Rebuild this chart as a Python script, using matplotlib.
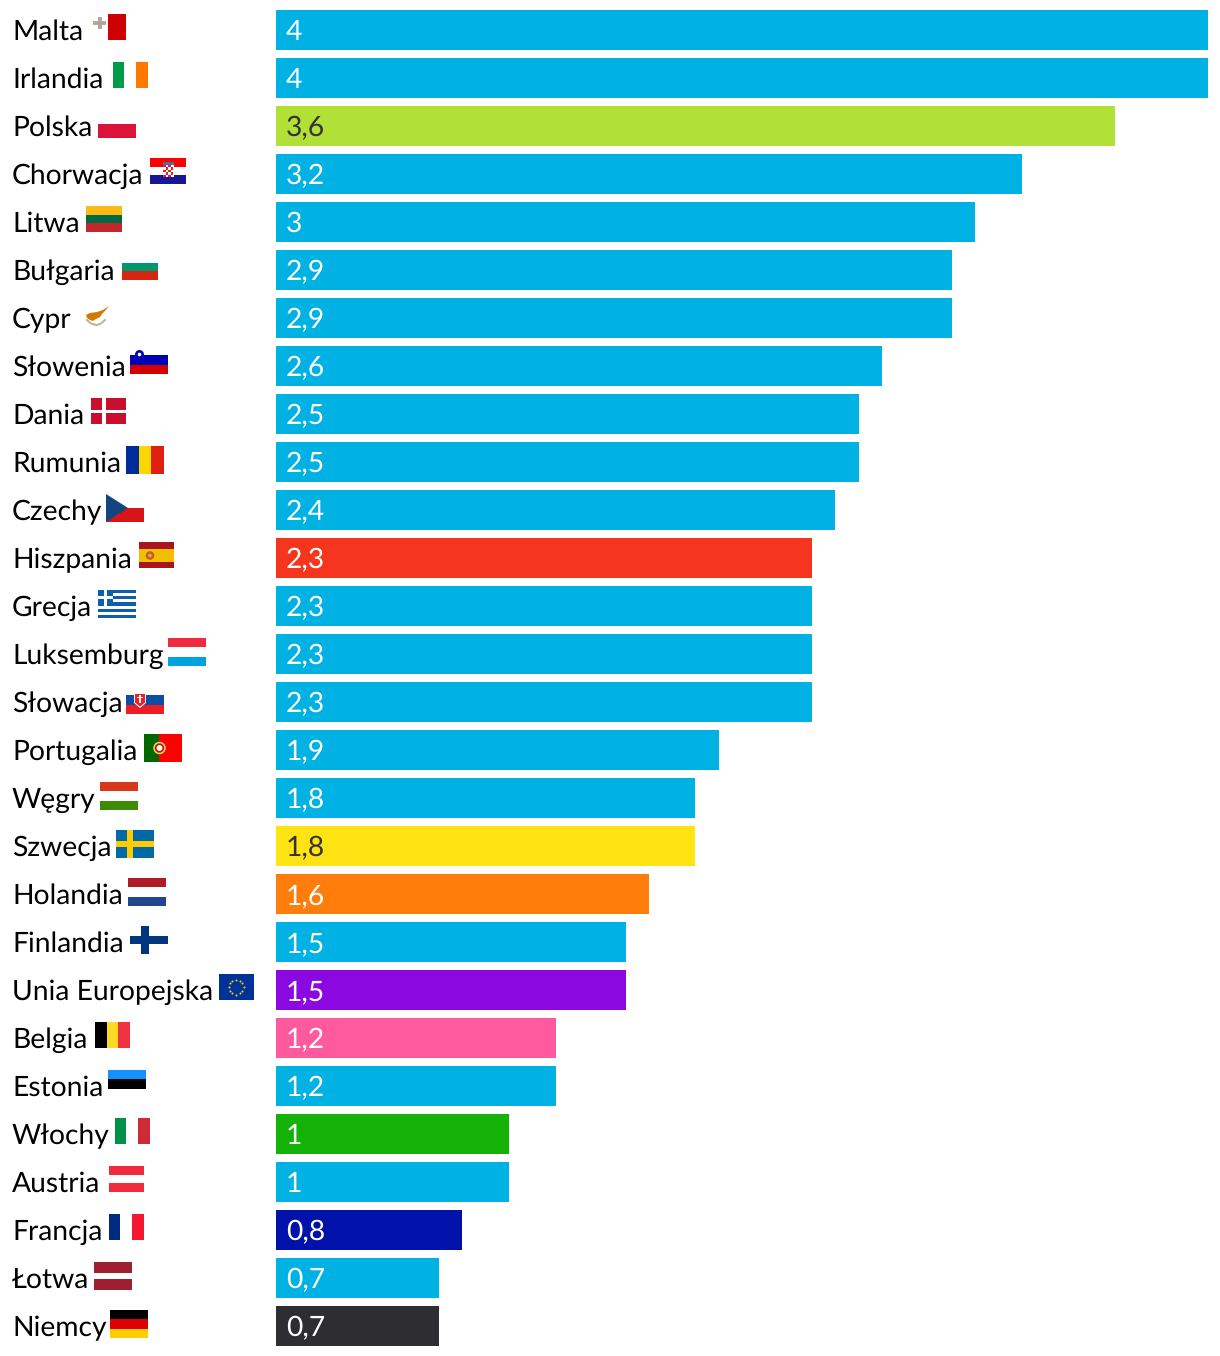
import numpy as np
import matplotlib
matplotlib.use("Agg")
import matplotlib.pyplot as plt
from matplotlib.patches import Rectangle, Polygon, Circle

# Dane
countries = ["Malta", "Irlandia", "Polska", "Chorwacja", "Litwa", "Bułgaria", "Cypr",
             "Słowenia", "Dania", "Rumunia", "Czechy", "Hiszpania", "Grecja", "Luksemburg",
             "Słowacja", "Portugalia", "Węgry", "Szwecja", "Holandia", "Finlandia",
             "Unia Europejska", "Belgia", "Estonia", "Włochy", "Austria", "Francja",
             "Łotwa", "Niemcy"]
values = [4, 4, 3.6, 3.2, 3, 2.9, 2.9, 2.6, 2.5, 2.5, 2.4, 2.3, 2.3, 2.3, 2.3,
          1.9, 1.8, 1.8, 1.6, 1.5, 1.5, 1.2, 1.2, 1, 1, 0.8, 0.7, 0.7]

BLUE = "#00b2e3"
special_colors = {"Polska": "#b1e037", "Hiszpania": "#f5351e", "Szwecja": "#ffe312",
                  "Holandia": "#ff7d0a", "Unia Europejska": "#8c08e0", "Belgia": "#ff5a9e",
                  "Włochy": "#14b106", "Francja": "#0012aa", "Niemcy": "#2d2d32"}
dark_text = ["Polska", "Szwecja"]

# Uklad w pikselach
W, H = 1220, 1356
BAR_X0, BAR_X1 = 276, 1208
PITCH, BAR_H, FIRST = 48, 40, 30

plt.rcParams["font.family"] = ["Lato", "DejaVu Sans"]
plt.rcParams["text.hinting"] = "no_hinting"
plt.rcParams["text.hinting_factor"] = 8
FS = 20.3

fig = plt.figure(figsize=(W / 100, H / 100), dpi=100)
ax = fig.add_axes([BAR_X0 / W, 0, (BAR_X1 - BAR_X0) / W, 1])
ypos = np.arange(len(countries))
colors = [special_colors.get(c, BLUE) for c in countries]
ax.barh(ypos, values, height=BAR_H / PITCH, color=colors)
ax.set_xlim(0, 4)
ax.set_ylim((H - FIRST) / PITCH, -FIRST / PITCH)
ax.axis("off")

for y, v, c in zip(ypos, values, countries):
    label = f"{v:g}".replace(".", ",")
    col = "#333333" if c in dark_text else "white"
    ax.annotate(label, (0, y), xytext=(10 * 0.72, -10 * 0.72), textcoords="offset points",
                va="baseline", ha="left", color=col, fontsize=FS)

# Warstwa z nazwami i flagami, wspolrzedne w pikselach
ov = fig.add_axes([0, 0, 1, 1])
ov.set_xlim(0, W)
ov.set_ylim(H, 0)
ov.axis("off")
ov.patch.set_alpha(0)


def rect(x0, y0, x1, y1, color):
    ov.add_patch(Rectangle((x0, y0), x1 - x0, y1 - y0, fc=color, ec="none"))


def hstripes(x0, y0, x1, y1, cols, stops=None):
    stops = stops or np.linspace(0, 1, len(cols) + 1)
    for i, c in enumerate(cols):
        rect(x0, y0 + (y1 - y0) * stops[i], x1, y0 + (y1 - y0) * stops[i + 1], c)


def vstripes(x0, y0, x1, y1, cols, stops=None):
    stops = stops or np.linspace(0, 1, len(cols) + 1)
    for i, c in enumerate(cols):
        rect(x0 + (x1 - x0) * stops[i], y0, x0 + (x1 - x0) * stops[i + 1], y1, c)


for y, c in zip(ypos, countries):
    ov.text(12, FIRST + PITCH * y + 10, c, va="baseline", ha="left", color="black", fontsize=FS)


def top(i):
    return FIRST - BAR_H / 2 + PITCH * i + 4


# Malta
t = top(0)
rect(108, t, 125.5, t + 26, "#cf0000")
rect(97.5, t + 3, 101.5, t + 15, "#c9a98c")
rect(93, t + 7, 106, t + 11, "#c9a98c")
rect(98.2, t + 4, 100.8, t + 14, "#a8a8a8")
rect(94, t + 7.7, 105, t + 10.3, "#a8a8a8")
# Irlandia
t = top(1)
vstripes(112.5, t, 147.5, t + 26, ["#009a49", "white", "#ff7900"])
# Polska
t = top(2)
rect(98, t + 14, 136, t + 28, "#dc143c")
# Chorwacja
t = top(3)
hstripes(150, t, 186, t + 26, ["#ff0000", "white", "#171796"])
rect(162.5, t + 6, 173.5, t + 19, "white")
for i in range(5):
    for j in range(4):
        if (i + j) % 2 == 0:
            rect(163 + j * 2.5, t + 7 + i * 2.4, 165.5 + j * 2.5, t + 9.4 + i * 2.4, "#e8202a")
rect(162.5, t + 4, 173.5, t + 6.5, "#4a6ea8")
# Litwa
t = top(4)
hstripes(86, t, 122, t + 26, ["#fdb913", "#006a44", "#c1272d"])
# Bulgaria
t = top(5)
hstripes(122, t, 158, t + 26, ["white", "#00966e", "#d62612"])
# Cypr
t = top(6)
ov.add_patch(Polygon([(86, 315), (90, 313), (97, 312), (103, 310), (109, 306), (104, 312),
                      (102, 314), (100, 317), (96, 319), (93, 321), (90, 320), (87, 318)],
                     fc="#d57800", ec="none"))
ov.plot([87, 91, 96], [320, 323.5, 325], color="#b5b59a", lw=1.4)
ov.plot([105, 101, 97], [320, 323.5, 325], color="#b5b59a", lw=1.4)
# Slowenia
t = top(7)
hstripes(130, t + 5, 168, t + 24, ["#0000b4", "#d50000"])
ov.add_patch(Circle((139.5, t + 4.5), 4.5, fc="#0000b4", ec="none"))
ov.add_patch(Circle((139.5, t + 4.5), 1.8, fc="white", ec="none"))
# Dania
t = top(8)
rect(90.5, t, 126, t + 26, "#c8102e")
rect(102, t, 105.5, t + 26, "white")
rect(90.5, t + 12, 126, t + 15, "white")
# Rumunia
t = top(9)
vstripes(126, t, 164, t + 28, ["#002b9b", "#fcd800", "#df2010"])
# Czechy
t = top(10)
rect(106, t + 14, 144, t + 28, "#d7141a")
ov.add_patch(Polygon([(106, t), (128, t + 14), (106, t + 28)], fc="#11457e", ec="none"))
# Hiszpania
t = top(11)
hstripes(138.5, t, 174, t + 26, ["#aa151b", "#f1bf00", "#aa151b"], [0, 0.25, 0.75, 1])
ov.add_patch(Circle((150, t + 13.5), 4.3, fc="#c0601c", ec="none"))
ov.add_patch(Circle((150, t + 13.5), 1.8, fc="#e8a060", ec="none"))
# Grecja
t = top(12)
hstripes(98, t, 136, t + 28, ["#0d5eaf", "white"] * 4 + ["#0d5eaf"])
rect(98, t, 113, t + 15.5, "#0d5eaf")
rect(104, t, 107, t + 15.5, "white")
rect(98, t + 6.2, 113, t + 9.3, "white")
# Luksemburg
t = top(13)
hstripes(168, t, 206, t + 28, ["#ef2b3d", "white", "#00a3e0"])
# Slowacja
t = top(14)
hstripes(126, t + 9, 164, t + 28, ["#0b4ea2", "#ee1c25"])
ov.add_patch(Polygon([(134, t + 7), (146, t + 7), (146, t + 17), (140, t + 22), (134, t + 17)],
                     fc="white", ec="none"))
ov.add_patch(Polygon([(135, t + 8), (145, t + 8), (145, t + 16.5), (140, t + 20.5), (135, t + 16.5)],
                     fc="#ee1c25", ec="none"))
rect(139.3, t + 9, 140.7, t + 17, "white")
rect(137.3, t + 11, 142.7, t + 12.2, "white")
# Portugalia
t = top(15)
vstripes(144, t, 182, t + 28, ["#006600", "#ff0000"], [0, 0.4, 1])
ov.add_patch(Circle((159.5, t + 14), 6.3, fc="#e8d050", ec="none"))
ov.add_patch(Circle((159.5, t + 14), 3.8, fc="white", ec="#c01010", lw=1.2))
# Wegry
t = top(16)
hstripes(100, t, 138, t + 28, ["#d7381a", "white", "#3d8c08"])
# Szwecja
t = top(17)
rect(116, t, 154, t + 28, "#006aa7")
rect(126.5, t, 132.5, t + 28, "#fecc00")
rect(116, t + 11, 154, t + 17, "#fecc00")
# Holandia
t = top(18)
hstripes(128, t, 166, t + 28, ["#ae1c28", "white", "#21468b"])
# Finlandia
t = top(19)
rect(140.5, t, 148.5, t + 28, "#003580")
rect(130, t + 10, 168, t + 18, "#003580")
# UE
t = top(20)
rect(219, t, 253.5, t + 26, "#003399")
ang = np.linspace(0, 2 * np.pi, 12, endpoint=False)
ov.scatter(236 + 7.5 * np.cos(ang), t + 13 + 7.5 * np.sin(ang), s=2.2, color="#ffcc00", linewidths=0)
# Belgia
t = top(21)
vstripes(95, t, 129.5, t + 26, ["black", "#fdda24", "#ef3340"])
# Estonia
t = top(22)
hstripes(108, t, 146, t + 28, ["#1291ff", "black", "white"])
# Wlochy
t = top(23)
vstripes(114.5, t, 150, t + 26, ["#009246", "white", "#ce2b37"])
# Austria
t = top(24)
hstripes(108.5, t, 144, t + 26, ["#ef2b3d", "white", "#ef2b3d"])
# Francja
t = top(25)
vstripes(108.5, t, 144, t + 26, ["#002a7f", "white", "#f31830"])
# Lotwa
t = top(26)
hstripes(94, t, 132, t + 28, ["#9e1f32", "white", "#9e1f32"], [0, 0.4, 0.6, 1])
# Niemcy
t = top(27)
hstripes(110, t, 148, t + 28, ["black", "#dd0000", "#ffce00"])

fig.savefig("out.png", dpi=100, facecolor="white")
